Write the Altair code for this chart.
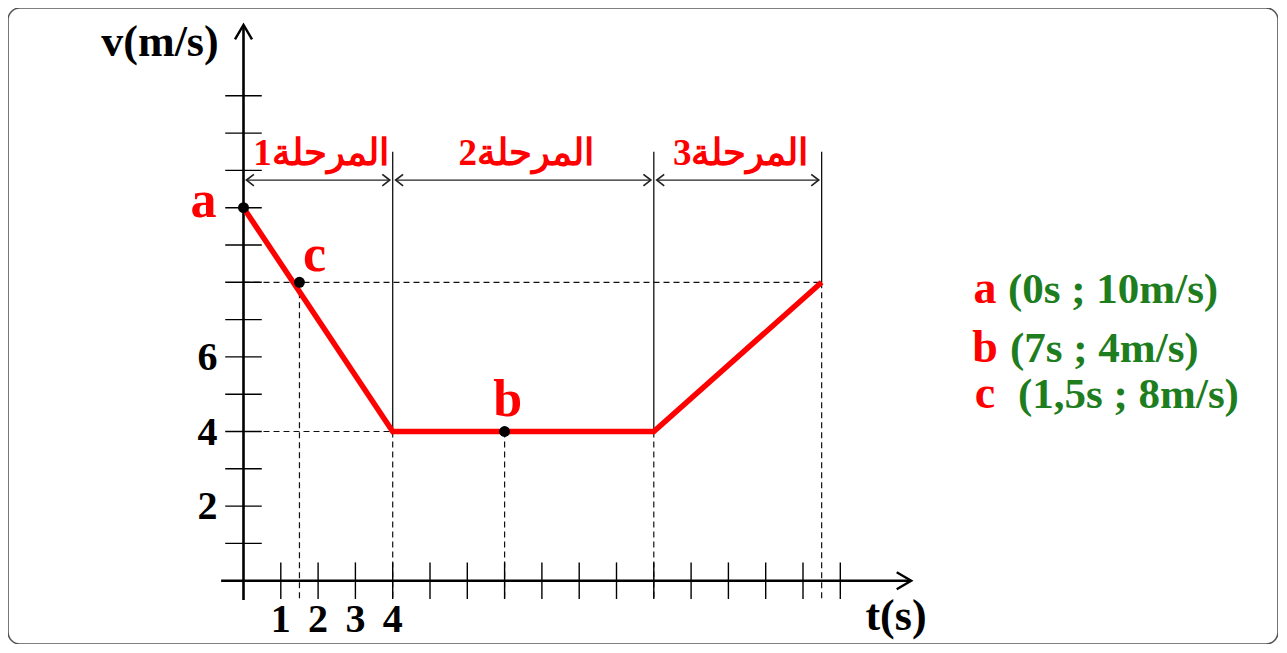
import altair as alt
import pandas as pd

# ---------------- data ----------------
path_t = [0, 4, 11, 15.5]
path_v = [10, 4, 4, 8]
point_names = ["a", "b", "c"]
point_t = [0, 7, 1.5]
point_v = [10, 4, 8]
stage_names = ["المرحلة1", "المرحلة2", "المرحلة3"]
stage_start = [0, 4, 11]
stage_end = [4, 11, 15.5]
stage_end_v = [4, 4, 8]
x_ticks = list(range(1, 17))
x_tick_labels = [1, 2, 3, 4]
y_ticks = list(range(1, 14))
y_tick_labels = [2, 4, 6]
legend_letters = ["a", "b", "c"]
legend_coords = ["(0s ; 10m/s)", "(7s ; 4m/s)", "(1,5s ; 8m/s)"]
x_title = "t(s)"
y_title = "v(m/s)"

# ---------------- layout ----------------
W, H = 1270, 636
ORIGIN_X, ORIGIN_Y, UNIT = 235.5, 572.7, 37.3  # view pixels of (0,0), px per unit
T_MIN = -ORIGIN_X / UNIT
T_MAX = T_MIN + W / UNIT
V_MAX = ORIGIN_Y / UNIT
V_MIN = V_MAX - H / UNIT

T_AX0, T_AX1 = -0.6, 17.9
V_AX0, V_AX1 = -0.52, 14.9
STAGE_TOP = 11.5
STAGE_ARROW_V = 10.74
STAGE_LABEL_V = 11.15
TICK_HALF = 0.49

RED = "#FF0000"
GREEN = "#1E7D1E"
SERIF = "Liberation Serif"

xs = alt.Scale(domain=[T_MIN, T_MAX], nice=False, zero=False)
ys = alt.Scale(domain=[V_MIN, V_MAX], nice=False, zero=False)


def X(f="t"):
    return alt.X(f"{f}:Q", scale=xs, axis=None)


def Y(f="v"):
    return alt.Y(f"{f}:Q", scale=ys, axis=None)


def px_to_t(px):
    return (px - 8 - ORIGIN_X) / UNIT


def px_to_v(py):
    return (ORIGIN_Y - (py - 8)) / UNIT


def segs(rows):
    return pd.DataFrame(rows, columns=["t", "v", "t2", "v2"])


def rule_layer(df, **kw):
    return alt.Chart(df).mark_rule(**kw).encode(
        x=X("t"), y=Y("v"), x2=alt.X2("t2:Q"), y2=alt.Y2("v2:Q")
    )


# dashed guide lines
dash_rows = [
    (0, point_v[2], path_t[-1], path_v[-1]),
    (0, path_v[1], path_t[1], path_v[1]),
]
for tt, vv in zip(point_t[1:], point_v[1:]):
    dash_rows.append((tt, vv, tt, V_AX0))
for tt, vv in zip(path_t[1:], path_v[1:]):
    dash_rows.append((tt, vv, tt, V_AX0))
dashed = rule_layer(segs(dash_rows), color="#111", strokeWidth=1.2, strokeDash=[6, 4])

# stage boundary lines
bound = rule_layer(
    segs([(t, STAGE_TOP, t, v) for t, v in zip(stage_end, stage_end_v)]),
    color="#111", strokeWidth=1.3,
)

# stage double arrows
eps = 0.08
arrow_rows = [(s + eps, STAGE_ARROW_V, e - eps, STAGE_ARROW_V) for s, e in zip(stage_start, stage_end)]
stage_arrows = rule_layer(segs(arrow_rows), color="#222", strokeWidth=1.4)
left_heads = alt.Chart(pd.DataFrame({"t": [s + eps for s in stage_start], "v": [STAGE_ARROW_V] * 3})).mark_point(
    shape="M1.3,-1L0,0L1.3,1", filled=False, color="#222", strokeWidth=1.7, size=130, opacity=1
).encode(x=X(), y=Y())
right_heads = alt.Chart(pd.DataFrame({"t": [e - eps for e in stage_end], "v": [STAGE_ARROW_V] * 3})).mark_point(
    shape="M-1.3,-1L0,0L-1.3,1", filled=False, color="#222", strokeWidth=1.7, size=130, opacity=1
).encode(x=X(), y=Y())

# axes
axes = rule_layer(segs([(T_AX0, 0, T_AX1, 0), (0, V_AX0, 0, V_AX1)]), color="#000", strokeWidth=2.6)
x_arrow = alt.Chart(pd.DataFrame({"t": [T_AX1], "v": [0]})).mark_point(
    shape="M-1.7,-1L0,0L-1.7,1", filled=False, color="#000", strokeWidth=2.4, size=290, opacity=1
).encode(x=X(), y=Y())
y_arrow = alt.Chart(pd.DataFrame({"t": [0], "v": [V_AX1]})).mark_point(
    shape="M-1,1.7L0,0L1,1.7", filled=False, color="#000", strokeWidth=2.4, size=290, opacity=1
).encode(x=X(), y=Y())

# ticks
xt = rule_layer(segs([(t, -TICK_HALF, t, TICK_HALF) for t in x_ticks]), color="#000", strokeWidth=1.4)
yt = rule_layer(segs([(-TICK_HALF, v, TICK_HALF, v) for v in y_ticks]), color="#000", strokeWidth=1.4)

# red path
path_df = pd.DataFrame({"t": path_t, "v": path_v, "i": range(len(path_t))})
red_line = alt.Chart(path_df).mark_line(color=RED, strokeWidth=5.5).encode(
    x=X(), y=Y(), order="i:Q"
)

# dots
pts_df = pd.DataFrame({"name": point_names, "t": point_t, "v": point_v})
dots = alt.Chart(pts_df).mark_circle(color="#000", size=120, opacity=1).encode(x=X(), y=Y())

# point labels
label_offsets = {"a": (-40, 9), "b": (3, -16), "c": (15, -11)}
pt_labels = []
for name, tt, vv in zip(point_names, point_t, point_v):
    dx, dy = label_offsets[name]
    pt_labels.append(
        alt.Chart(pd.DataFrame({"t": [tt], "v": [vv], "s": [name]})).mark_text(
            font=SERIF, fontWeight="bold", fontSize=52, color=RED, align="center",
            baseline="alphabetic", dx=dx, dy=dy,
        ).encode(x=X(), y=Y(), text="s:N")
    )

# tick labels
xl = alt.Chart(pd.DataFrame({"t": x_tick_labels, "v": [0] * len(x_tick_labels)})).mark_text(
    font=SERIF, fontWeight="bold", fontSize=40, color="#000", align="center", baseline="alphabetic", dy=51
).encode(x=X(), y=Y(), text="t:Q")
yl = alt.Chart(pd.DataFrame({"t": [0] * len(y_tick_labels), "v": y_tick_labels})).mark_text(
    font=SERIF, fontWeight="bold", fontSize=40, color="#000", align="right", baseline="alphabetic", dx=-26, dy=13
).encode(x=X(), y=Y(), text="v:Q")

# axis titles
titles = alt.Chart(pd.DataFrame({
    "t": [px_to_t(160), px_to_t(896)],
    "v": [px_to_v(56), px_to_v(630)],
    "s": [y_title, x_title],
})).mark_text(font=SERIF, fontWeight="bold", fontSize=44, color="#000", align="center", baseline="alphabetic").encode(
    x=X(), y=Y(), text="s:N"
)

# stage labels
stage_df = pd.DataFrame({
    "t": [(s + e) / 2 for s, e in zip(stage_start, stage_end)],
    "v": [STAGE_LABEL_V] * 3,
    "s": stage_names,
})
stage_text = alt.Chart(stage_df).mark_text(
    font=SERIF, fontWeight="bold", fontSize=37, color=RED, align="center", baseline="alphabetic", dx=3
).encode(x=X(), y=Y(), text="s:N")

# legend on the right
leg_baselines = [303, 362, 408]
leg_text_left = [1008, 1010, 1018]
leg_letters_df = pd.DataFrame({
    "t": [px_to_t(985)] * 3,
    "v": [px_to_v(b) for b in leg_baselines],
    "s": legend_letters,
})
leg_letters = alt.Chart(leg_letters_df).mark_text(
    font=SERIF, fontWeight="bold", fontSize=46, color=RED, align="center", baseline="alphabetic"
).encode(x=X(), y=Y(), text="s:N")
leg_coords_df = pd.DataFrame({
    "t": [px_to_t(x) for x in leg_text_left],
    "v": [px_to_v(b) for b in leg_baselines],
    "s": legend_coords,
})
leg_coords = alt.Chart(leg_coords_df).mark_text(
    font=SERIF, fontWeight="bold", fontSize=43, color=GREEN, align="left", baseline="alphabetic"
).encode(x=X(), y=Y(), text="s:N")

chart = alt.layer(
    dashed, bound, stage_arrows, left_heads, right_heads, axes, x_arrow, y_arrow, xt, yt,
    red_line, dots, *pt_labels, xl, yl, titles, stage_text, leg_letters, leg_coords,
).properties(
    width=W, height=H, padding=0, autosize=alt.AutoSizeParams(type="none"), background="white"
).configure_view(stroke="#555", strokeWidth=1.6, cornerRadius=12)

chart.save("out.html", embed_options={"renderer": "svg", "actions": False})
